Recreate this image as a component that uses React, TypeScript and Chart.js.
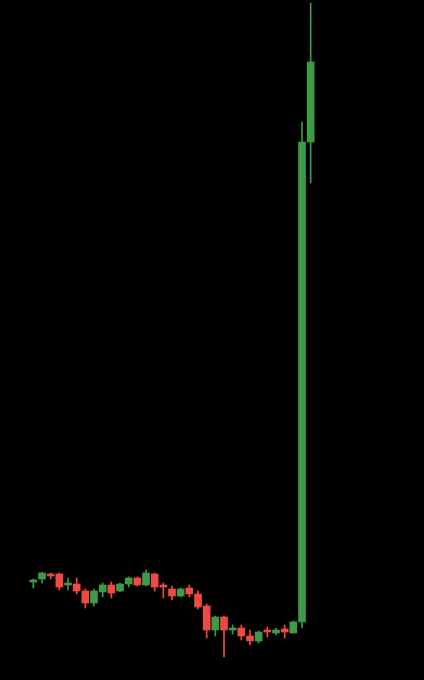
import React, { useRef, useEffect } from 'react';
import { Chart, registerables } from 'chart.js';

Chart.register(...registerables);

// candles (price units)
const labels = Array.from({ length: 33 }, (_, i) => `${i + 1}`);
const opens = [98, 101, 106, 106, 95, 96, 89, 77, 88, 95, 89, 96, 102, 95, 106, 95, 91, 84, 92, 86, 74, 50, 63, 50, 52, 44, 39, 50, 47, 51, 47, 58, 538];
const closes = [100, 107, 104, 93, 97, 89, 77, 89, 95, 87, 96, 102, 95, 107, 93, 93, 84, 91, 86, 73, 50, 63, 50, 52, 44, 39, 48, 48, 50, 48, 58, 538, 618];
const highs = [101, 108, 107, 107, 102, 102, 91, 91, 97, 98, 97, 103, 103, 110, 107, 97, 94, 92, 95, 89, 76, 64, 64, 55, 55, 50, 49, 53, 52, 55, 59, 558, 677];
const lows = [92, 97, 101, 90, 90, 86, 72, 74, 83, 82, 88, 93, 94, 94, 89, 82, 80, 83, 83, 71, 42, 44, 23, 46, 40, 35, 37, 43, 45, 42, 47, 52, 497];

const UP = '#3d9b47';
const DOWN = '#ef4a43';

const App: React.FC = () => {
  const chartRef = useRef<HTMLCanvasElement>(null);
  const chartInstance = useRef<Chart | null>(null);

  useEffect(() => {
    if (!chartRef.current) return;
    document.body.style.margin = '0';
    document.body.style.background = '#000';

    const colors = opens.map((o, i) => (closes[i] >= o ? UP : DOWN));

    chartInstance.current = new Chart(chartRef.current, {
      type: 'bar',
      data: {
        labels,
        datasets: [
          {
            label: 'wick',
            data: lows.map((l, i) => [l, highs[i]]),
            backgroundColor: colors,
            barThickness: 1,
            grouped: false,
            borderWidth: 0,
            borderSkipped: false,
          },
          {
            label: 'body',
            data: opens.map((o, i) => [o, closes[i]]),
            backgroundColor: colors,
            barThickness: 7,
            grouped: false,
            borderWidth: 0,
            borderSkipped: false,
          },
        ],
      },
      options: {
        responsive: true,
        maintainAspectRatio: false,
        animation: false,
        layout: { padding: { left: 29, right: 109, top: 0, bottom: 0 } },
        plugins: { legend: { display: false }, tooltip: { enabled: false } },
        scales: {
          x: { display: false },
          y: { display: false, min: 0, max: 680 },
        },
      },
    });

    return () => {
      if (chartInstance.current) {
        chartInstance.current.destroy();
      }
    };
  }, []);

  return (
    <div style={{ position: 'fixed', left: 0, top: 0, width: '424px', height: '680px', background: '#000' }}>
      <canvas ref={chartRef} />
    </div>
  );
};

export default App;
